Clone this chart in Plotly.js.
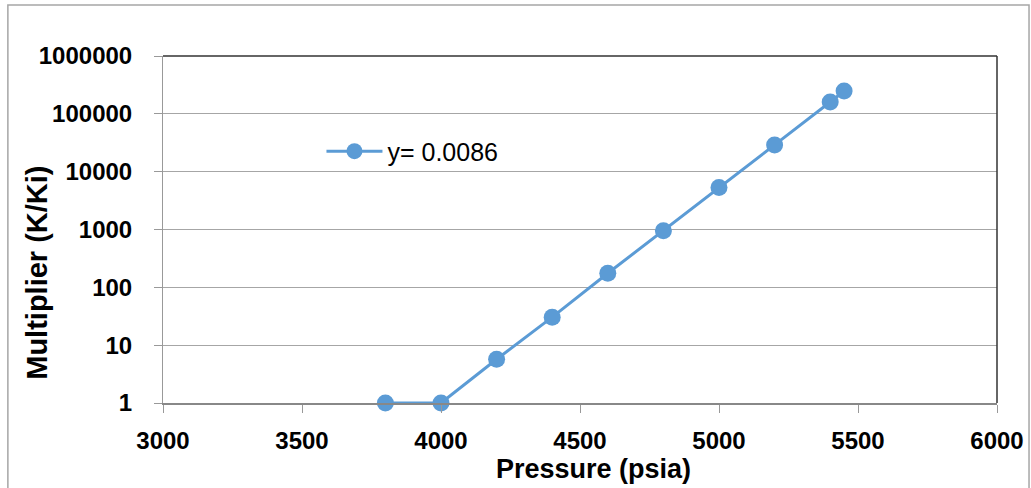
<!DOCTYPE html>
<html>
<head>
<meta charset="utf-8">
<script src="https://cdn.plot.ly/plotly-3.0.1.min.js"></script>
<style>html,body{margin:0;padding:0;background:#fff;}#chart{width:1031px;height:488px;}</style>
</head>
<body>
<div id="chart"></div>
<script>
const pressure = [3800, 4000, 4200, 4400, 4600, 4800, 5000, 5200, 5400, 5450];
const multiplier = [1, 1, 5.7, 30.5, 175, 950, 5300, 29000, 160000, 248000];
const seriesName = "y= 0.0086";
const yTicks = [1, 10, 100, 1000, 10000, 100000, 1000000];
const yTickLabels = ["1", "10", "100", "1000", "10000", "100000", "1000000"];
const xTicks = [3000, 3500, 4000, 4500, 5000, 5500, 6000];
const xTitle = "Pressure (psia)";
const yTitle = "Multiplier (K/Ki)";

const fam = "Liberation Sans, Arial, sans-serif";
const tickFont = {family: fam, size: 24, color: "#000", weight: "bold"};
const data = [{
  x: pressure, y: multiplier, name: seriesName, type: "scatter", mode: "lines+markers",
  line: {color: "#5B9BD5", width: 3},
  marker: {color: "#5B9BD5", size: 17},
  cliponaxis: false,
  showlegend: true
}];
const layout = {
  width: 1031, height: 488,
  margin: {l: 163, r: 34, t: 56, b: 85},
  paper_bgcolor: "#fff", plot_bgcolor: "#fff",
  xaxis: {
    range: [3000, 6000], tickvals: xTicks, ticktext: xTicks.map(String),
    showgrid: false, zeroline: false, showline: true, linecolor: "#888", linewidth: 1.5,
    ticks: "outside", ticklen: 8, tickcolor: "#999", tickwidth: 1,
    tickfont: tickFont, ticklabelstandoff: 8
  },
  yaxis: {
    type: "log", range: [0, 6], tickvals: yTicks, ticktext: yTickLabels,
    showgrid: true, gridcolor: "#A6A6A6", gridwidth: 1.3,
    zeroline: false, showline: true, linecolor: "#999", linewidth: 1,
    ticks: "outside", ticklen: 8, tickcolor: "#999",
    tickfont: tickFont, ticklabelstandoff: 17
  },
  legend: {
    x: 0.19, y: 0.725, xanchor: "left", yanchor: "middle",
    bgcolor: "rgba(0,0,0,0)", borderwidth: 0, itemwidth: 56,
    font: {family: fam, size: 25, color: "#000"}
  },
  annotations: [
    {text: "<b>" + xTitle + "</b>", xref: "paper", yref: "paper", x: 0.516, y: -0.19, yanchor: "middle", showarrow: false,
     font: {family: fam, size: 27, color: "#000"}},
    {text: "<b>" + yTitle + "</b>", xref: "paper", yref: "paper", x: -0.152, y: 0.376, xanchor: "center", yanchor: "middle", textangle: -90, showarrow: false,
     font: {family: fam, size: 29, color: "#000"}}
  ],
  shapes: [
    {type: "line", xref: "paper", yref: "paper", x0: 0, x1: 1, y0: 1, y1: 1, line: {color: "#333", width: 1.5}},
    {type: "line", xref: "paper", yref: "paper", x0: 1, x1: 1, y0: 0, y1: 1, line: {color: "#333", width: 1.5}},
    {type: "rect", xref: "paper", yref: "paper", x0: -0.186, x1: 1.0384, y0: -0.4, y1: 1.147, line: {color: "#A6A6A6", width: 1.5}, fillcolor: "rgba(0,0,0,0)"}
  ]
};
Plotly.newPlot("chart", data, layout, {staticPlot: true, displayModeBar: false});
</script>
</body>
</html>
